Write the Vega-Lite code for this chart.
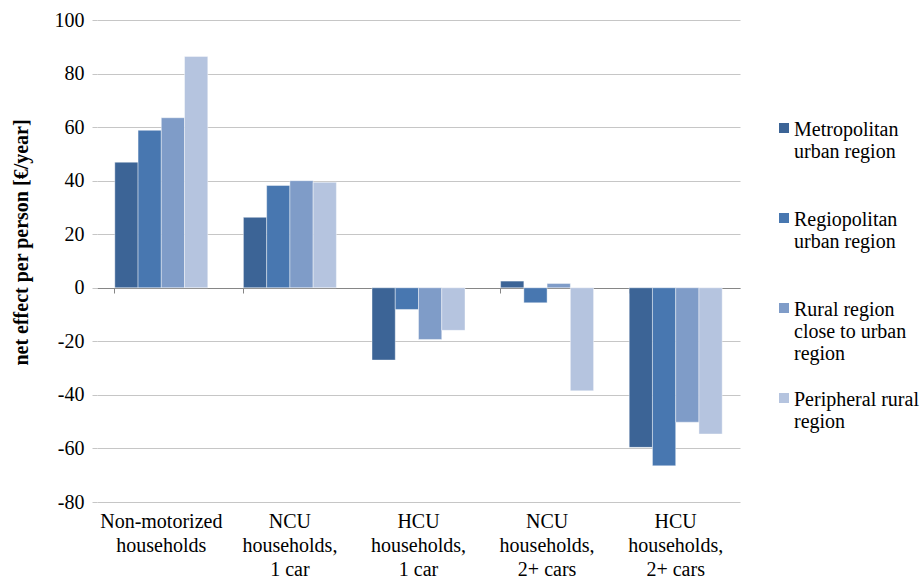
{
  "$schema": "https://vega.github.io/schema/vega-lite/v6.json",
  "width": 643,
  "height": 482,
  "autosize": "none",
  "padding": {"left": 97, "top": 20, "right": 182, "bottom": 76},
  "background": "#ffffff",
  "config": {
    "font": "Liberation Serif",
    "view": {"stroke": null},
    "axis": {"labelFont": "Liberation Serif", "titleFont": "Liberation Serif", "labelColor": "#000000", "titleColor": "#000000"},
    "legend": {"labelFont": "Liberation Serif", "labelColor": "#000000"}
  },
  "data": {
    "values": [
      {"group": "Non-motorized households", "region": "Metropolitan urban region", "value": 46.9},
      {"group": "Non-motorized households", "region": "Regiopolitan urban region", "value": 58.8},
      {"group": "Non-motorized households", "region": "Rural region close to urban region", "value": 63.5},
      {"group": "Non-motorized households", "region": "Peripheral rural region", "value": 86.4},
      {"group": "NCU households, 1 car", "region": "Metropolitan urban region", "value": 26.3},
      {"group": "NCU households, 1 car", "region": "Regiopolitan urban region", "value": 38.2},
      {"group": "NCU households, 1 car", "region": "Rural region close to urban region", "value": 40.0},
      {"group": "NCU households, 1 car", "region": "Peripheral rural region", "value": 39.4},
      {"group": "HCU households, 1 car", "region": "Metropolitan urban region", "value": -27.0},
      {"group": "HCU households, 1 car", "region": "Regiopolitan urban region", "value": -8.1},
      {"group": "HCU households, 1 car", "region": "Rural region close to urban region", "value": -19.3},
      {"group": "HCU households, 1 car", "region": "Peripheral rural region", "value": -15.9},
      {"group": "NCU households, 2+ cars", "region": "Metropolitan urban region", "value": 2.5},
      {"group": "NCU households, 2+ cars", "region": "Regiopolitan urban region", "value": -5.6},
      {"group": "NCU households, 2+ cars", "region": "Rural region close to urban region", "value": 1.6},
      {"group": "NCU households, 2+ cars", "region": "Peripheral rural region", "value": -38.5},
      {"group": "HCU households, 2+ cars", "region": "Metropolitan urban region", "value": -59.6},
      {"group": "HCU households, 2+ cars", "region": "Regiopolitan urban region", "value": -66.5},
      {"group": "HCU households, 2+ cars", "region": "Rural region close to urban region", "value": -50.2},
      {"group": "HCU households, 2+ cars", "region": "Peripheral rural region", "value": -54.6}
    ]
  },
  "layer": [
    {
      "mark": {"type": "bar", "stroke": "#ffffff", "strokeWidth": 0.7, "strokeOpacity": 0.6},
      "encoding": {
        "x": {
          "field": "group", "type": "nominal",
          "sort": ["Non-motorized households", "NCU households, 1 car", "HCU households, 1 car", "NCU households, 2+ cars", "HCU households, 2+ cars"],
          "scale": {"paddingInner": 0.277, "paddingOuter": 0.1385},
          "axis": {"orient": "bottom", "offset": -214, "labels": false, "title": null, "grid": false, "domain": true, "domainColor": "#868686", "domainWidth": 1, "ticks": true, "tickColor": "#868686", "tickSize": 5, "bandPosition": 0}
        },
        "xOffset": {
          "field": "region", "type": "nominal",
          "sort": ["Metropolitan urban region", "Regiopolitan urban region", "Rural region close to urban region", "Peripheral rural region"],
          "scale": {"paddingInner": 0, "paddingOuter": 0}
        },
        "y": {
          "field": "value", "type": "quantitative",
          "scale": {"domain": [-80, 100], "nice": false, "zero": false},
          "axis": {
            "values": [-80, -60, -40, -20, 0, 20, 40, 60, 80, 100],
            "labelExpr": "replace(datum.label, '−', '-')",
            "title": "net effect per person [€/year]",
            "titleFontWeight": "bold", "titleFontSize": 20, "titleX": -66, "titleY": 222,
            "labelFontSize": 20, "labelPadding": 8,
            "grid": true, "gridColor": "#C6C6C6", "gridWidth": 1,
            "domain": false, "ticks": true, "tickColor": "#C6C6C6", "tickSize": 5
          }
        },
        "color": {
          "field": "region", "type": "nominal",
          "scale": {
            "domain": ["Metropolitan urban region", "Regiopolitan urban region", "Rural region close to urban region", "Peripheral rural region"],
            "range": ["#3C6496", "#4877B0", "#7F9CC8", "#B5C4DF"]
          },
          "legend": {
            "title": null, "orient": "none", "legendX": 677, "legendY": 90, "padding": 0,
            "symbolType": "M-1,0.6H1V2.6H-1Z", "symbolSize": 100, "symbolStrokeWidth": 0,
            "labelFontSize": 20, "labelLineHeight": 24, "labelBaseline": "top", "labelOffset": 0, "labelLimit": 200,
            "rowPadding": 16,
            "labelExpr": "datum.value == 'Metropolitan urban region' ? ['Metropolitan', 'urban region', ''] : datum.value == 'Regiopolitan urban region' ? ['Regiopolitan', 'urban region', ''] : datum.value == 'Rural region close to urban region' ? ['Rural region', 'close to urban', 'region'] : ['Peripheral rural', 'region', '']"
          }
        }
      }
    },
    {
      "mark": {"type": "point", "opacity": 0},
      "encoding": {
        "x": {
          "field": "group", "type": "nominal",
          "sort": ["Non-motorized households", "NCU households, 1 car", "HCU households, 1 car", "NCU households, 2+ cars", "HCU households, 2+ cars"],
          "axis": {
            "orient": "bottom", "title": null, "domain": false, "ticks": false, "grid": false,
            "labelAngle": 0, "labelFontSize": 20, "labelLineHeight": 24, "labelPadding": 9, "labelLimit": 200,
            "labelExpr": "datum.value == 'Non-motorized households' ? ['Non-motorized', 'households'] : datum.value == 'NCU households, 1 car' ? ['NCU', 'households,', '1 car'] : datum.value == 'HCU households, 1 car' ? ['HCU', 'households,', '1 car'] : datum.value == 'NCU households, 2+ cars' ? ['NCU', 'households,', '2+ cars'] : ['HCU', 'households,', '2+ cars']"
          }
        },
        "y": {"datum": 0, "type": "quantitative"}
      }
    }
  ],
  "resolve": {"axis": {"x": "independent"}}
}
